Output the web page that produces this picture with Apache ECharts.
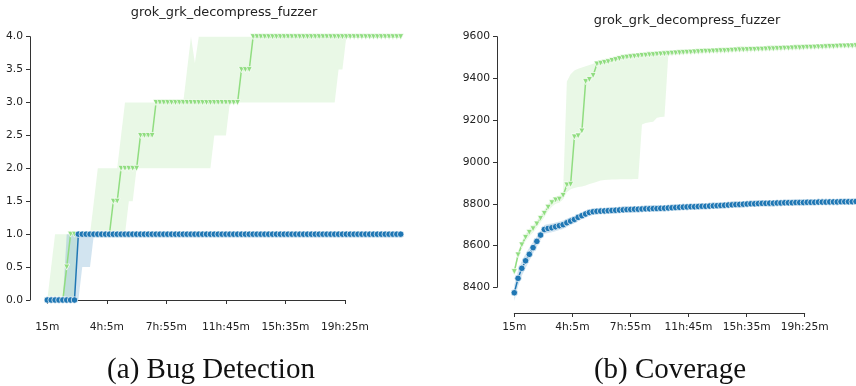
<!DOCTYPE html>
<html>
<head>
<meta charset="utf-8">
<script src="https://cdn.jsdelivr.net/npm/echarts@6/dist/echarts.min.js"></script>
<style>
  html, body { margin: 0; padding: 0; background: #fff; }
  #chart { width: 856px; height: 386px; }
</style>
</head>
<body>
<div id="chart"></div>
<script>
// sample times in minutes (one sample every 15 min, starting at 15m)
const times = Array.from({ length: 92 }, (_, i) => 15 + 15 * i)
const xTickLabels = ['15m', '4h:5m', '7h:55m', '11h:45m', '15h:35m', '19h:25m']
const panelTitle = 'grok_grk_decompress_fuzzer'

// (a) bug detection, blue = circles, green = triangles
const bugBlue = [
  0,0,0,0,0,0,0,0,1,1,1,1,1,1,1,1,1,1,1,1,1,1,1,
  1,1,1,1,1,1,1,1,1,1,1,1,1,1,1,1,1,1,1,1,1,1,1,
  1,1,1,1,1,1,1,1,1,1,1,1,1,1,1,1,1,1,1,1,1,1,1,
  1,1,1,1,1,1,1,1,1,1,1,1,1,1,1,1,1,1,1,1,1,1,1
]
const bugBlueLo = [
  0,0,0,0,0,0,0,0,0,0.5,0.5,0.5,1,1,1,1,1,1,1,1,1,1,1,
  1,1,1,1,1,1,1,1,1,1,1,1,1,1,1,1,1,1,1,1,1,1,1,
  1,1,1,1,1,1,1,1,1,1,1,1,1,1,1,1,1,1,1,1,1,1,1,
  1,1,1,1,1,1,1,1,1,1,1,1,1,1,1,1,1,1,1,1,1,1,1
]
const bugBlueHi = [
  0,0,0,0,0,1,1,1,1,1,1,1,1,1,1,1,1,1,1,1,1,1,1,
  1,1,1,1,1,1,1,1,1,1,1,1,1,1,1,1,1,1,1,1,1,1,1,
  1,1,1,1,1,1,1,1,1,1,1,1,1,1,1,1,1,1,1,1,1,1,1,
  1,1,1,1,1,1,1,1,1,1,1,1,1,1,1,1,1,1,1,1,1,1,1
]
const bugGreen = [
  0,0,0,0,0,0.5,1,1,1,1,1,1,1,1,1,1,1,1.5,1.5,2,2,2,2,
  2,2.5,2.5,2.5,2.5,3,3,3,3,3,3,3,3,3,3,3,3,3,3,3,3,3,3,
  3,3,3,3,3.5,3.5,3.5,4,4,4,4,4,4,4,4,4,4,4,4,4,4,4,4,
  4,4,4,4,4,4,4,4,4,4,4,4,4,4,4,4,4,4,4,4,4,4,4
]
const bugGreenLo = [
  0,0,0,0,0,0,0,0,1,1,1,1,1,1,1,1,1,1,1,1,1,1.5,1.5,
  2,2,2,2,2,2,2,2,2,2,2,2,2,2,2,2,2,2,2,2,2.5,2.5,2.5,
  2.5,3,3,3,3,3,3,3,3,3,3,3,3,3,3,3,3,3,3,3,3,3,3,
  3,3,3,3,3,3,3.5,3.5,4,4,4,4,4,4,4,4,4,4,4,4,4,4,4
]
const bugGreenHi = [
  0,0.5,1,1,1,1,1,1,1,1,1,1,1.5,2,2,2,2,2,2,2.5,3,3,3,
  3,3,3,3,3,3,3,3,3,3,3,3,3,3.5,4,3.6,4,4,4,4,4,4,4,
  4,4,4,4,4,4,4,4,4,4,4,4,4,4,4,4,4,4,4,4,4,4,4,
  4,4,4,4,4,4,4,4,4,4,4,4,4,4,4,4,4,4,4,4,4,4,4
]

// (b) coverage
const covBlue = [
  8374,8443,8491,8527,8558,8590,8620,8650,8677,8682,8685,8690,8695,8700,8709,8717,8725,8735,8743,8751,8758,8762,8764,
  8765,8766,8767,8768,8769,8770,8771,8772,8773,8774,8774,8775,8776,8776,8777,8777,8778,8779,8780,8781,8782,8783,8784,
  8785,8786,8786,8787,8788,8788,8789,8790,8791,8792,8793,8794,8795,8796,8797,8798,8799,8800,8800,8801,8802,8802,8803,
  8803,8804,8804,8805,8805,8805,8806,8806,8806,8807,8807,8807,8808,8808,8808,8809,8809,8809,8810,8810,8810,8810,8811
]
const covBlueLo = [
  8335,8405,8455,8493,8527,8562,8594,8627,8656,8660,8664,8669,8674,8679,8689,8698,8707,8717,8727,8736,8744,8748,8750,
  8751,8752,8753,8754,8755,8756,8757,8759,8760,8761,8761,8762,8763,8764,8765,8765,8766,8767,8768,8769,8770,8771,8772,
  8773,8774,8775,8776,8777,8778,8779,8780,8781,8782,8783,8784,8785,8786,8787,8788,8789,8790,8790,8791,8792,8792,8793,
  8793,8794,8794,8795,8795,8795,8796,8796,8796,8797,8797,8797,8798,8798,8798,8799,8799,8799,8800,8800,8800,8800,8801
]
const covBlueHi = [
  8412,8480,8526,8560,8589,8617,8645,8672,8698,8703,8706,8710,8715,8720,8728,8735,8742,8751,8758,8765,8772,8776,8778,
  8779,8780,8781,8782,8783,8784,8785,8786,8787,8788,8788,8789,8790,8790,8791,8791,8792,8792,8793,8794,8795,8796,8797,
  8797,8798,8798,8799,8799,8800,8800,8801,8801,8802,8803,8804,8805,8806,8807,8808,8809,8810,8810,8811,8812,8812,8813,
  8813,8814,8814,8815,8815,8815,8816,8816,8816,8817,8817,8817,8818,8818,8818,8819,8819,8819,8820,8820,8820,8820,8821
]
const covGreen = [
  8475,8555,8603,8639,8663,8680,8703,8730,8754,8783,8805,8818,8822,8840,8890,8893,9120,9125,9148,9385,9395,9414,9469,
  9473,9477,9480,9486,9490,9495,9499,9502,9504,9506,9508,9510,9511,9513,9514,9516,9517,9518,9519,9521,9522,9523,9524,
  9525,9526,9527,9528,9529,9530,9530,9531,9532,9533,9533,9534,9535,9536,9537,9537,9538,9539,9539,9540,9540,9541,9542,
  9542,9543,9544,9545,9545,9546,9547,9547,9548,9549,9549,9550,9551,9551,9552,9553,9553,9554,9555,9555,9556,9556,9557
]
const covGreenLo = [
  8458,8535,8585,8620,8645,8662,8685,8712,8736,8765,8786,8800,8805,8822,8855,8870,8876,8880,8883,8888,8895,8900,8905,
  8911,8914,8915,8916,8916,8917,8917,8918,8918,8919,8919,9180,9187,9190,9193,9212,9215,9217,9510,9512,9514,9515,9516,
  9517,9518,9519,9520,9521,9522,9522,9523,9524,9525,9525,9526,9527,9528,9529,9529,9530,9531,9531,9532,9532,9533,9534,
  9534,9535,9536,9537,9537,9538,9539,9539,9540,9541,9541,9542,9543,9543,9544,9545,9545,9546,9547,9547,9548,9548,9549
]
const covGreenHi = [
  8492,8572,8620,8656,8680,8697,8720,8747,8771,8800,8822,8835,8840,8858,9385,9420,9438,9447,9452,9458,9465,9470,9480,
  9484,9488,9491,9496,9500,9504,9508,9511,9513,9515,9517,9519,9520,9522,9523,9525,9526,9527,9528,9529,9530,9531,9532,
  9533,9534,9535,9536,9537,9538,9538,9539,9540,9541,9541,9542,9543,9544,9545,9545,9546,9547,9547,9548,9548,9549,9550,
  9550,9551,9552,9553,9553,9554,9555,9555,9556,9557,9557,9558,9559,9559,9560,9561,9561,9562,9563,9563,9564,9564,9565
]

const BLUE = '#1f77b4'
const GREEN = '#90dd80'
const TEXT = '#222'
const AXIS = '#333'

const pairs = ys => times.map((t, i) => [t, ys[i]])

// 置信区间：用 custom 系列画一整块多边形（上沿 + 反向下沿）
const band = (lo, hi, color, idx) => ({
  type: 'custom', xAxisIndex: idx, yAxisIndex: idx, silent: true, clip: false,
  data: pairs(lo),
  renderItem: (params, api) => {
    if (params.dataIndex !== 0) return
    const top = times.map((t, i) => api.coord([t, hi[i]]))
    const bottom = times.map((t, i) => api.coord([t, lo[i]])).reverse()
    return { type: 'polygon', shape: { points: top.concat(bottom) }, style: { fill: color } }
  }
})

const meanLine = (ys, color, symbol, idx) => ({
  type: 'line', xAxisIndex: idx, yAxisIndex: idx, data: pairs(ys),
  symbol, symbolSize: symbol === 'triangle' ? 6 : 6.5, symbolRotate: symbol === 'triangle' ? 180 : 0,
  showAllSymbol: true, clip: false,
  lineStyle: { color, width: 1.5 },
  itemStyle: { color, borderColor: '#fff', borderWidth: 0.7 }
})

const tickLabel = { fontFamily: 'DejaVu Sans', fontSize: 10.7, color: TEXT }
const hiddenX = { type: 'value', min: 15, max: 1380, show: false }
const shownX = gridIndex => ({
  type: 'value', gridIndex, min: 15, max: 1165, interval: 230,
  splitLine: { show: false },
  axisLine: { show: true, lineStyle: { color: AXIS, width: 1 } },
  axisTick: { show: true, length: 4, lineStyle: { color: AXIS } },
  axisLabel: { ...tickLabel, margin: 8.5, formatter: v => xTickLabels[Math.round((v - 15) / 230)] }
})
const shownY = (gridIndex, min, max, interval, fmt) => ({
  type: 'value', gridIndex, min, max, interval, offset: 17.3,
  splitLine: { show: false },
  axisLine: { show: true, lineStyle: { color: AXIS, width: 1 } },
  axisTick: { show: true, length: 4, lineStyle: { color: AXIS } },
  axisLabel: { ...tickLabel, margin: 7, formatter: fmt }
})

const chart = echarts.init(document.getElementById('chart'))
chart.setOption({
  animation: false,
  backgroundColor: '#fff',
  grid: [
    { left: 47.3, top: 36.7, width: 353.4, height: 263.3 },
    { left: 47.3, top: 36.7, width: 297.7, height: 263.3 },
    { left: 514.3, top: 36.7, width: 344.7, height: 271.5 },
    { left: 514.3, top: 36.7, width: 290.4, height: 250.6 }
  ],
  xAxis: [
    { ...hiddenX, gridIndex: 0 },
    { ...shownX(1), offset: 13 },
    { ...hiddenX, gridIndex: 2 },
    { ...shownX(3), offset: 25.7 }
  ],
  yAxis: [
    shownY(0, 0, 4, 0.5, v => v.toFixed(1)),
    { type: 'value', gridIndex: 1, min: 0, max: 4, show: false },
    { type: 'value', gridIndex: 2, min: 8300, max: 9600, show: false },
    shownY(3, 8400, 9600, 200, v => String(v))
  ],
  graphic: [
    { type: 'text', x: 224, y: 13, style: { text: panelTitle, font: '12.9px "DejaVu Sans"', fill: TEXT, align: 'center', verticalAlign: 'middle' } },
    { type: 'text', x: 687, y: 21, style: { text: panelTitle, font: '12.9px "DejaVu Sans"', fill: TEXT, align: 'center', verticalAlign: 'middle' } },
    { type: 'text', x: 211, y: 370, style: { text: '(a) Bug Detection', font: '29px "Liberation Serif"', fill: '#111', align: 'center', verticalAlign: 'middle' } },
    { type: 'text', x: 670, y: 370, style: { text: '(b) Coverage', font: '29px "Liberation Serif"', fill: '#111', align: 'center', verticalAlign: 'middle' } }
  ],
  series: [
    band(bugGreenLo, bugGreenHi, 'rgba(144,221,128,0.2)', 0),
    band(bugBlueLo, bugBlueHi, 'rgba(31,119,180,0.2)', 0),
    meanLine(bugGreen, GREEN, 'triangle', 0),
    meanLine(bugBlue, BLUE, 'circle', 0),
    band(covGreenLo, covGreenHi, 'rgba(144,221,128,0.2)', 2),
    band(covBlueLo, covBlueHi, 'rgba(31,119,180,0.2)', 2),
    meanLine(covGreen, GREEN, 'triangle', 2),
    meanLine(covBlue, BLUE, 'circle', 2)
  ]
})
</script>
</body>
</html>
